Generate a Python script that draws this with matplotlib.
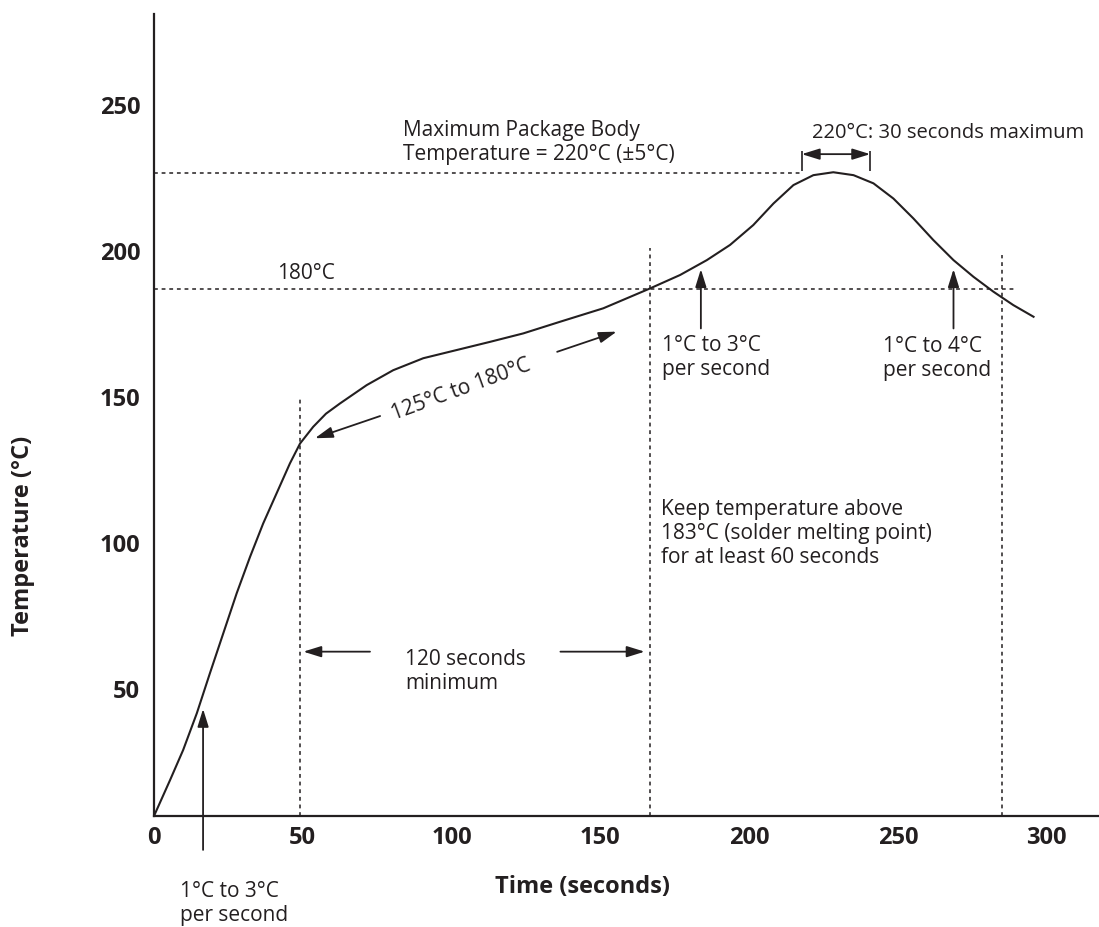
import matplotlib
matplotlib.use("Agg")
import matplotlib.pyplot as plt

plt.rcParams['font.family'] = ['Open Sans', 'DejaVu Sans']

INK = '#231f20'

# reflow profile: time (s), temperature (C)
time_s = [0, 5.4, 9.8, 14.4, 18.8, 23.3, 27.8, 32.3, 36.7, 41.2, 45.7, 49.1,
          53.5, 57.8, 62.5, 71.5, 80.4, 90.5, 101.7, 112.9, 124.1, 136.5, 151.0,
          166.7, 176.8, 185.8, 193.6, 201.4, 208.2, 214.9, 221.6, 228.3, 235.1,
          241.8, 248.5, 255.2, 261.9, 268.7, 275.4, 282.1, 288.8, 295.6]
temp_c = [6.5, 18.8, 29.1, 41.7, 55.4, 69.1, 82.8, 95.3, 106.7, 117.0, 127.3,
          134.1, 139.8, 144.3, 147.8, 154.1, 159.2, 163.3, 166.1, 168.9, 171.8,
          175.8, 180.4, 187.2, 191.8, 196.9, 202.1, 208.9, 216.3, 222.6, 226.0,
          227.0, 226.0, 223.2, 218.0, 211.2, 203.8, 196.9, 191.2, 186.1, 181.5,
          177.5]

x_ticks = [0, 50, 100, 150, 200, 250, 300]
y_ticks = [50, 100, 150, 200, 250]

# reference lines: (level, end)
peak_level, peak_end = 226.9, 218.2
liq_level, liq_end = 187.0, 290.0
# vertical markers: (time, top)
markers = [(49.2, 149.6), (166.7, 200.9), (284.9, 198.6)]

# arrows: (tail, tip)
arrows = [
    ((16.5, -5.1), (16.5, 43.2)),
    ((72.6, 62.8), (50.2, 62.8)),
    ((136.6, 62.8), (164.9, 62.8)),
    ((76.0, 143.5), (54.1, 135.9)),
    ((135.5, 165.5), (155.5, 172.4)),
    ((183.8, 173.5), (183.8, 193.8)),
    ((268.7, 173.5), (268.7, 193.8)),
]
span_x = (217.7, 240.7)
span_y = 233.2
span_bar = (227.5, 234.4)

notes = [
    (83.8, 237.3, "Maximum Package Body\nTemperature = 220°C (±5°C)"),
    (41.4, 192.4, "180°C"),
    (170.6, 163.6, "1°C to 3°C\nper second"),
    (245.1, 163.1, "1°C to 4°C\nper second"),
    (170.5, 103.3, "Keep temperature above\n183°C (solder melting point)\nfor at least 60 seconds"),
    (84.4, 55.9, "120 seconds\nminimum"),
    (8.9, -23.4, "1°C to 3°C\nper second"),
]

fig = plt.figure(figsize=(10.99, 9.27), dpi=100)
ax = fig.add_axes([0.1401, 0.1197, 0.8599, 0.8652])
ax.set_xlim(0, 317.6)
ax.set_ylim(6.5, 281.2)

for s in ['top', 'right']:
    ax.spines[s].set_visible(False)
for s in ['left', 'bottom']:
    ax.spines[s].set_linewidth(1.6)
    ax.spines[s].set_color(INK)

ax.plot(time_s, temp_c, color=INK, lw=1.5, solid_joinstyle='round')

dash = dict(color=INK, lw=1.1, dashes=(2.5, 2.5))
ax.plot([0, peak_end], [peak_level, peak_level], **dash)
ax.plot([0, liq_end], [liq_level, liq_level], **dash)
for mx, top in markers:
    ax.plot([mx, mx], [6.5, top], **dash)

for tail, tip in arrows:
    ax.annotate('', xy=tip, xytext=tail,
                arrowprops=dict(arrowstyle='-|>,head_length=0.9,head_width=0.28',
                                mutation_scale=12, color=INK, lw=1.3,
                                shrinkA=0, shrinkB=0),
                annotation_clip=False)

ax.annotate('', xy=(span_x[0], span_y), xytext=(span_x[1], span_y),
            arrowprops=dict(arrowstyle='<|-|>,head_length=0.9,head_width=0.28',
                            mutation_scale=12, color=INK, lw=1.3,
                            shrinkA=0, shrinkB=0))
ax.vlines(span_x, span_bar[0], span_bar[1], color=INK, lw=1.2)

for x, y, t in notes:
    ax.text(x, y, t, fontsize=15, color=INK, ha='left', va='center',
            linespacing=1.2)
ax.text(221.3, 240.5, "220°C: 30 seconds maximum", fontsize=14.5, color=INK,
        ha='left', va='center')
ax.text(103.1, 152.4, "125°C to 180°C", fontsize=15, color=INK,
        ha='center', va='center', rotation=20)

ax.set_xticks(x_ticks)
ax.set_yticks(y_ticks)
ax.tick_params(length=0, labelsize=17, colors=INK)
ax.tick_params(axis='x', pad=7)
ax.tick_params(axis='y', pad=10)
for lab in ax.get_xticklabels() + ax.get_yticklabels():
    lab.set_fontweight('bold')

ax.set_xlabel("Time (seconds)", fontsize=17, fontweight='bold', color=INK)
ax.set_ylabel("Temperature (°C)", fontsize=17, fontweight='bold', color=INK)
ax.xaxis.set_label_coords(0.453, -0.0885)
ax.xaxis.label.set_va('center')
ax.yaxis.set_label_coords(-0.1386, 0.349)
ax.yaxis.label.set_va('center')

fig.savefig("out.png", dpi=100)
